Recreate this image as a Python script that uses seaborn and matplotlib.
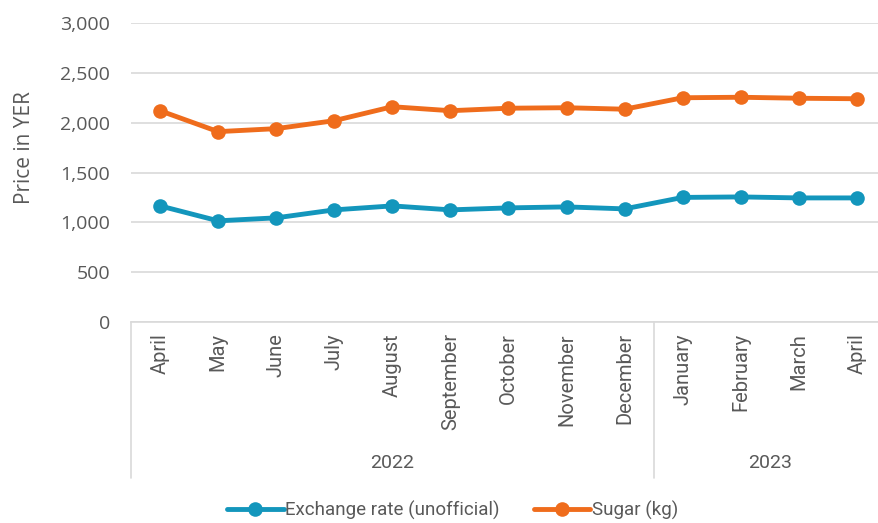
import numpy as np
import pandas as pd
import matplotlib
matplotlib.use('Agg')
import matplotlib.pyplot as plt
import matplotlib.transforms as mtransforms
import seaborn as sns

# podaci procitani s grafa
months = ['April', 'May', 'June', 'July', 'August', 'September', 'October',
          'November', 'December', 'January', 'February', 'March', 'April']
years = ['2022'] * 9 + ['2023'] * 4
exchange_rate = [1165, 1015, 1045, 1125, 1165, 1125, 1145, 1155, 1135, 1250, 1255, 1245, 1245]
sugar = [2120, 1910, 1940, 2020, 2160, 2120, 2145, 2150, 2135, 2250, 2255, 2245, 2240]
series_names = ['Exchange rate (unofficial)', 'Sugar (kg)']
colors = ['#1396BC', '#EF6C1C']
y_ticks = [0, 500, 1000, 1500, 2000, 2500, 3000]

df = pd.DataFrame({
    'idx': list(range(len(months))) * 2,
    'value': exchange_rate + sugar,
    'series': [series_names[0]] * len(months) + [series_names[1]] * len(months),
})

sns.set_style('white')
plt.rcParams['font.family'] = ['Roboto', 'DejaVu Sans']
grey = '#595959'

fig = plt.figure(figsize=(8.79, 5.23), dpi=100)
ax = fig.add_axes([131 / 879, 1 - 322 / 523, (879 - 131) / 879, 299 / 523])

sns.lineplot(data=df, x='idx', y='value', hue='series', palette=colors,
             marker='o', markersize=10.5, markeredgewidth=0, linewidth=3.5,
             ax=ax, legend=True)

ax.set_ylim(0, 3000)
ax.set_xlim(-0.5, 12.38)
ax.set_yticks(y_ticks)
ax.set_yticklabels([f'{v:,}' for v in y_ticks], fontfamily='Open Sans',
                   fontsize=14, color=grey)
ax.yaxis.grid(True, color='#d9d9d9', linewidth=1.2)
ax.set_axisbelow(True)
ax.tick_params(axis='y', length=0, pad=15)

ax.set_xticks(range(len(months)))
ax.set_xticklabels(months, rotation=90, fontsize=14.5, color=grey,
                   va='top')
ax.tick_params(axis='x', length=0, pad=8)

for s in ['top', 'right', 'left']:
    ax.spines[s].set_visible(False)
ax.spines['bottom'].set_color('#d9d9d9')
ax.spines['bottom'].set_linewidth(1.2)

ax.set_xlabel('')
ax.set_ylabel('Price in YER', fontfamily='Open Sans', fontsize=15,
              color=grey)
ax.yaxis.set_label_coords(-0.128, 0.585)

# okviri i oznake godina ispod osi
trans = mtransforms.blended_transform_factory(ax.transData, ax.transAxes)
year_names = sorted(set(years))
start = 0
for yr in year_names:
    n = years.count(yr)
    ax.plot([start - 0.5, start - 0.5], [0, -0.522], transform=trans,
            color='#d9d9d9', linewidth=1.2, clip_on=False)
    ax.text(start + (n - 1) / 2, -0.47, yr, transform=trans, ha='center',
            va='center', fontsize=14, color=grey)
    start += n

ax.get_legend().remove()
handles, labels = ax.get_legend_handles_labels()
fig.legend(handles, labels, loc='center', bbox_to_anchor=(0.515, 0.025),
           ncol=2, frameon=False, fontsize=13.5, labelcolor=grey,
           handlelength=3.0, handletextpad=0.1, columnspacing=1.8)

fig.savefig('out.png', dpi=100)
